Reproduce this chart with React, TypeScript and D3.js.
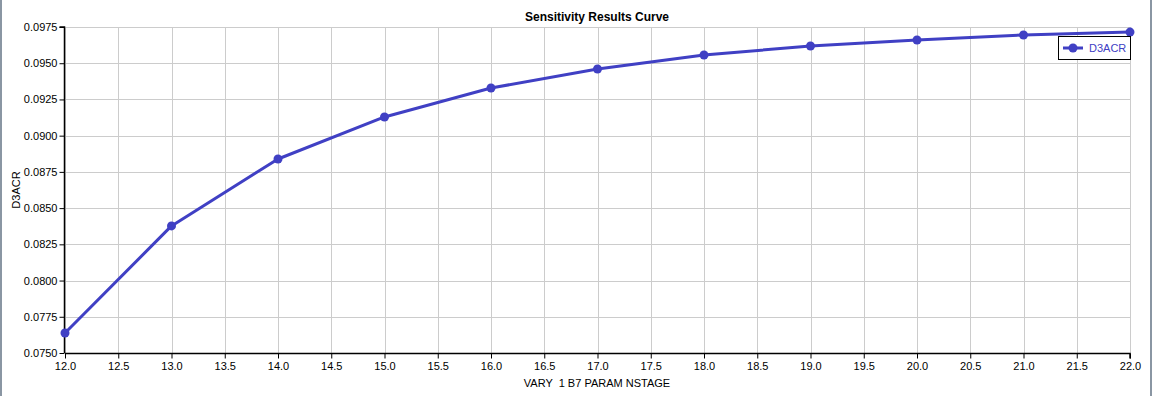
import React, { useEffect, useRef } from "react";
import { select, scaleLinear, line, axisLeft, axisBottom, range } from "d3";

const nstage = [12, 13, 14, 15, 16, 17, 18, 19, 20, 21, 22];
const d3acr = [0.07638, 0.08377, 0.08839, 0.09129, 0.09329, 0.0946, 0.09557, 0.09619, 0.0966, 0.09695, 0.09715];
const xTicks = range(12, 22.01, 0.5);
const yTicks = range(0.075, 0.09751, 0.0025);

const W = 1153;
const H = 396;
const blue = "rgb(64,64,196)";
const font = "Liberation Sans, Arial, sans-serif";

export default function App() {
  const ref = useRef<SVGSVGElement>(null);

  useEffect(() => {
    const svg = select(ref.current);
    svg.selectAll("*").remove();

    const x = scaleLinear().domain([12, 22]).range([65, 1130]);
    const y = scaleLinear().domain([0.075, 0.0975]).range([353, 27]);

    // window frame
    svg.append("line").attr("x1", 1).attr("x2", 1).attr("y1", 0).attr("y2", H).attr("stroke", "#8a96a3").attr("stroke-width", 2);
    svg.append("line").attr("x1", 1151).attr("x2", 1151).attr("y1", 0).attr("y2", H).attr("stroke", "#8a96a3").attr("stroke-width", 2);

    // grid
    const grid = svg.append("g").attr("stroke", "#cccccc").attr("stroke-width", 1);
    grid.selectAll("line.v").data(xTicks).join("line").attr("class", "v")
      .attr("x1", d => Math.round(x(d)) + 0.5).attr("x2", d => Math.round(x(d)) + 0.5)
      .attr("y1", y(0.0975)).attr("y2", y(0.075));
    grid.selectAll("line.h").data(yTicks).join("line").attr("class", "h")
      .attr("y1", d => Math.round(y(d)) + 0.5).attr("y2", d => Math.round(y(d)) + 0.5)
      .attr("x1", x(12)).attr("x2", x(22));

    // axes
    const xAxis = axisBottom(x).tickValues(xTicks).tickSize(5).tickPadding(4).tickFormat(d => (+d).toFixed(1));
    const gx = svg.append("g").attr("transform", `translate(0,${Math.round(y(0.075)) + 0.5})`).call(xAxis);
    const yAxis = axisLeft(y).tickValues(yTicks).tickSize(5).tickPadding(2).tickFormat(d => (+d).toFixed(4));
    const gy = svg.append("g").attr("transform", `translate(${Math.round(x(12)) - 0.5},0)`).call(yAxis);
    [gx, gy].forEach(g => {
      g.select(".domain").attr("stroke", "#000").attr("stroke-width", 1.5);
      g.selectAll(".tick line").attr("stroke", "#000");
      g.selectAll(".tick text").attr("fill", "#000").style("font-family", font).style("font-size", "11px");
    });
    gx.select(".domain").attr("d", `M${x(12)},0H${x(22)}V5`);
    gy.select(".domain").attr("d", `M-5,${y(0.0975)}H0V${y(0.075)}`);

    // series line
    const path = line<number>().x((d, i) => x(nstage[i])).y(d => y(d));
    svg.append("path").datum(d3acr).attr("d", path).attr("fill", "none")
      .attr("stroke", blue).attr("stroke-width", 3).attr("stroke-linejoin", "round");
    svg.selectAll("circle.pt").data(d3acr).join("circle").attr("class", "pt")
      .attr("cx", (d, i) => x(nstage[i])).attr("cy", d => y(d)).attr("r", 4.5).attr("fill", blue);

    // title & labels
    svg.append("text").attr("x", 597).attr("y", 21).attr("text-anchor", "middle")
      .style("font-family", font).style("font-size", "12px").style("font-weight", "bold").text("Sensitivity Results Curve");
    svg.append("text").attr("transform", "translate(20,190) rotate(-90)").attr("text-anchor", "middle")
      .style("font-family", font).style("font-size", "11px").text("D3ACR");
    svg.append("text").attr("x", 597).attr("y", 387).attr("text-anchor", "middle")
      .style("font-family", font).style("font-size", "11px").style("white-space", "pre").text("VARY  1 B7 PARAM NSTAGE");

    // legend
    const lg = svg.append("g").attr("transform", "translate(1058,36)");
    lg.append("rect").attr("x", 0.5).attr("y", 0.5).attr("width", 72).attr("height", 23)
      .attr("fill", "#fff").attr("stroke", "#000").attr("stroke-width", 1);
    lg.append("line").attr("x1", 5).attr("x2", 25).attr("y1", 12).attr("y2", 12).attr("stroke", blue).attr("stroke-width", 3);
    lg.append("circle").attr("cx", 15).attr("cy", 12).attr("r", 4.5).attr("fill", blue);
    lg.append("text").attr("x", 31).attr("y", 16).attr("fill", blue)
      .style("font-family", font).style("font-size", "11px").text("D3ACR");
  }, []);

  return (
    <div style={{ position: "absolute", left: 0, top: 0 }}>
      <svg ref={ref} width={W} height={H} style={{ display: "block", background: "#fff" }} />
    </div>
  );
}
